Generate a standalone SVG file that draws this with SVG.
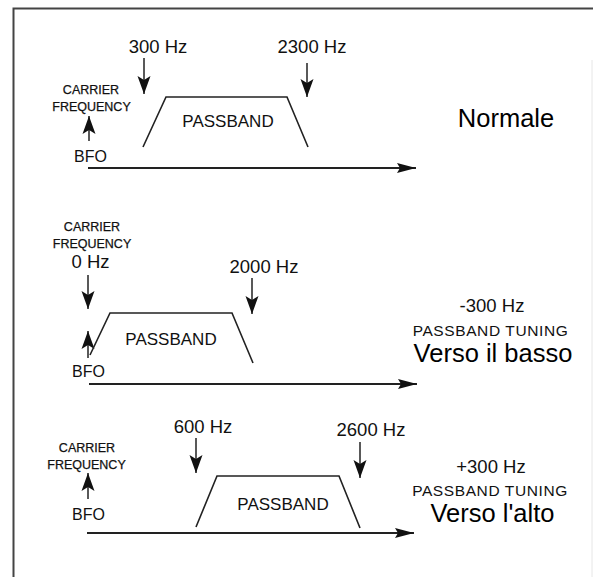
<svg xmlns="http://www.w3.org/2000/svg" width="593" height="577" viewBox="0 0 593 577">
<style>
text{font-family:"Liberation Sans",Arial,sans-serif;fill:#111;text-anchor:middle}
.hz{font-size:18.5px}
.cf{font-size:12.5px;stroke:#111;stroke-width:0.25px}
.bfo{font-size:16px}
.pb{font-size:17px}
.pt{font-size:15.5px;letter-spacing:0.6px}
.big{font-size:25.5px;fill:#000}
.ln{stroke:#222;stroke-width:1.5;fill:none}
.ax{stroke:#222;stroke-width:2;fill:none}
.trap{stroke:#222;stroke-width:1.6;fill:none}
</style>
<defs>
<marker id="ah" markerUnits="userSpaceOnUse" markerWidth="20" markerHeight="14" viewBox="0 0 20 14" refX="18" refY="7" orient="auto">
<path d="M0,0.5 L18,7 L0,13.5 L4,7 Z" fill="#111"/>
</marker>
<marker id="ax" markerUnits="userSpaceOnUse" markerWidth="20" markerHeight="12" viewBox="0 0 20 12" refX="19" refY="6" orient="auto">
<path d="M0,1 L19,6 L0,11 L3,6 Z" fill="#111"/>
</marker>
</defs>
<rect x="0" y="0" width="593" height="577" fill="#fff"/>
<g id="frame">
<path d="M13.5,577 V8.5 H593" stroke="#444" stroke-width="2" fill="none"/>
<line x1="592" y1="60" x2="592" y2="577" stroke="#e6e6e6" stroke-width="1"/>
</g>
<g id="connectors">
<line class="ln" x1="144" y1="58" x2="144" y2="94" marker-end="url(#ah)"/>
<line class="ln" x1="307" y1="63" x2="307" y2="97" marker-end="url(#ah)"/>
<line class="ln" x1="89" y1="141" x2="89" y2="116" marker-end="url(#ah)"/>
<line class="ax" x1="88" y1="168" x2="416" y2="168" marker-end="url(#ax)"/>
<line class="ln" x1="88" y1="275" x2="88" y2="309" marker-end="url(#ah)"/>
<line class="ln" x1="252" y1="278" x2="252" y2="314" marker-end="url(#ah)"/>
<line class="ln" x1="88" y1="358" x2="88" y2="331" marker-end="url(#ah)"/>
<line class="ax" x1="89" y1="384" x2="417" y2="384" marker-end="url(#ax)"/>
<line class="ln" x1="196" y1="438" x2="196" y2="473" marker-end="url(#ah)"/>
<line class="ln" x1="360" y1="442" x2="360" y2="478" marker-end="url(#ah)"/>
<line class="ln" x1="88" y1="499" x2="88" y2="473" marker-end="url(#ah)"/>
<line class="ax" x1="87" y1="533" x2="414" y2="533" marker-end="url(#ax)"/>
</g>
<g id="panel-normale">
<text class="hz" x="158" y="53">300 Hz</text>
<text class="hz" x="312" y="53">2300 Hz</text>
<text class="cf" x="91" y="94">CARRIER</text>
<text class="cf" x="91.5" y="111">FREQUENCY</text>
<text class="bfo" x="90.5" y="162">BFO</text>
<path class="trap" d="M143,147 L166,97 L287,97 L308,147"/>
<text class="pb" x="228" y="127">PASSBAND</text>
<text class="big" x="506" y="127">Normale</text>
</g>
<g id="panel-basso">
<text class="cf" x="92" y="231">CARRIER</text>
<text class="cf" x="92" y="248">FREQUENCY</text>
<text class="hz" x="90.5" y="268">0 Hz</text>
<text class="hz" x="264" y="273">2000 Hz</text>
<text class="bfo" x="88.5" y="377">BFO</text>
<path class="trap" d="M90,355 L110,313 L232,313 L253,363"/>
<text class="pb" x="171" y="345">PASSBAND</text>
<text class="hz" x="492" y="312">-300 Hz</text>
<text class="pt" x="490.5" y="335.5">PASSBAND TUNING</text>
<text class="big" x="493" y="362">Verso il basso</text>
</g>
<g id="panel-alto">
<text class="hz" x="203" y="433">600 Hz</text>
<text class="hz" x="371" y="436">2600 Hz</text>
<text class="cf" x="87" y="452">CARRIER</text>
<text class="cf" x="86.5" y="469">FREQUENCY</text>
<text class="bfo" x="88.5" y="520">BFO</text>
<path class="trap" d="M196,527 L217,476 L339,476 L360,528"/>
<text class="pb" x="283" y="510">PASSBAND</text>
<text class="hz" x="491" y="473">+300 Hz</text>
<text class="pt" x="490" y="496">PASSBAND TUNING</text>
<text class="big" x="492.5" y="522">Verso l'alto</text>
</g>
</svg>
